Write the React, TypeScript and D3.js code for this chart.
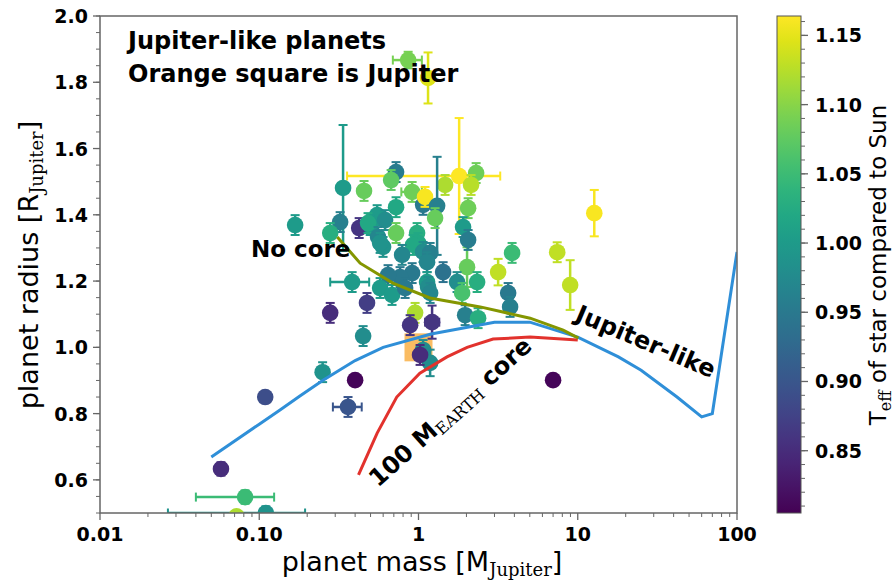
import React from 'react';
import * as d3 from 'd3';

// ---- data ----
const planetMass = [0.861, 1.148, 1.80, 0.336, 0.723, 0.673, 0.322, 0.455, 0.912, 1.069,
  1.099, 1.469, 2.301, 2.138, 2.049, 2.018, 1.905, 2.049, 3.87, 3.162,
  7.43, 12.7, 8.96, 0.168, 0.279, 0.424, 0.55, 0.497, 0.482, 0.617,
  0.723, 0.557, 0.599, 0.574, 0.723, 1.309, 1.271, 0.980, 0.994, 0.925,
  0.789, 1.069, 1.183, 1.132, 1.428, 0.912, 0.766, 0.644, 0.383, 0.574,
  0.682, 0.824, 1.132, 1.148, 1.183, 1.746, 1.879, 2.334, 3.656, 3.760,
  1.963, 2.367, 0.475, 0.279, 0.449, 0.952, 0.886, 1.217, 1.069, 1.183,
  1.023, 0.25, 0.361, 0.40, 7.0, 0.109, 0.0575, 0.0815, 0.11, 0.072];
const planetRadius = [1.867, 1.813, 1.517, 1.481, 1.529, 1.505, 1.378, 1.472, 1.469, 1.430,
  1.454, 1.490, 1.526, 1.490, 1.420, 1.242, 1.363, 1.324, 1.285, 1.227,
  1.287, 1.405, 1.188, 1.369, 1.345, 1.360, 1.399, 1.369, 1.375, 1.384,
  1.423, 1.333, 1.303, 1.315, 1.345, 1.427, 1.390, 1.345, 1.315, 1.309,
  1.279, 1.288, 1.285, 1.257, 1.227, 1.224, 1.212, 1.218, 1.197, 1.179,
  1.158, 1.179, 1.197, 1.182, 1.164, 1.197, 1.164, 1.197, 1.164, 1.122,
  1.097, 1.088, 1.134, 1.104, 1.034, 1.104, 1.067, 1.076, 0.992, 0.953,
  0.977, 0.925, 0.820, 0.901, 0.901, 0.85, 0.633, 0.548, 0.50, 0.49];
const starTeff = [1.09, 1.145, 1.163, 1.00, 0.955, 1.075, 0.96, 1.08, 1.085, 0.95,
  1.16, 1.12, 1.085, 1.125, 1.085, 1.08, 1.00, 0.955, 1.05, 1.13,
  1.13, 1.16, 1.13, 1.00, 1.03, 0.86, 1.0, 1.0, 1.02, 0.98,
  1.02, 0.97, 0.99, 0.99, 1.08, 0.96, 1.08, 1.03, 1.02, 1.02,
  0.97, 0.98, 0.96, 0.97, 0.94, 0.95, 0.95, 0.95, 1.00, 1.00,
  1.00, 0.95, 1.0, 0.98, 0.97, 0.98, 1.06, 1.03, 0.95, 0.96,
  0.96, 1.03, 0.87, 0.85, 0.98, 1.12, 0.86, 0.86, 0.98, 0.98,
  0.85, 0.99, 0.90, 0.81, 0.81, 0.89, 0.85, 1.05, 0.99, 1.12];
const radiusErr = [0.025, 0.077, 0.175, 0.19, 0.03, 0.03, 0.03, 0.03, 0.03, 0.03,
  0.03, 0.03, 0.03, 0.03, 0.03, 0.06, 0.03, 0.03, 0.03, 0.04,
  0.03, 0.07, 0.075, 0.03, 0.03, 0.03, 0.03, 0.03, 0.03, 0.03,
  0.03, 0.03, 0.03, 0.03, 0.03, 0.148, 0.03, 0.03, 0.03, 0.03,
  0.03, 0.03, 0.03, 0.03, 0.03, 0.03, 0.03, 0.03, 0.03, 0.03,
  0.03, 0.03, 0.03, 0.03, 0.03, 0.03, 0.03, 0.03, 0.03, 0.03,
  0.03, 0.03, 0.03, 0.03, 0.03, 0.03, 0.03, 0.05, 0.03, 0.04,
  0.03, 0.03, 0.03, 0, 0, 0, 0.02, 0.02, 0.02, 0];
// mass error ranges [low, high] for the points that have them (index -> range)
const massErrIndex = [0, 2, 8, 48, 67, 72, 77, 78];
const massErrLow = [0.69, 0.356, 0.78, 0.279, 1.1, 0.29, 0.04, 0.0267];
const massErrHigh = [1.05, 3.26, 1.05, 0.49, 1.35, 0.44, 0.124, 0.194];

// model curves
const noCoreMass = [0.309, 0.43, 0.69, 1.18, 2.44, 5.02, 8.1, 10.1];
const noCoreRadius = [1.333, 1.254, 1.194, 1.149, 1.122, 1.088, 1.052, 1.028];
const coreMass = [0.42, 0.55, 0.73, 1.02, 1.51, 2.02, 2.94, 5.02, 10];
const coreRadius = [0.615, 0.741, 0.85, 0.922, 0.971, 1.0, 1.025, 1.031, 1.022];
const jupLikeMass = [0.05, 0.1, 0.135, 0.18, 0.25, 0.4, 0.6, 1.2, 3, 5, 10, 18, 25, 42, 60, 70, 100];
const jupLikeRadius = [0.669, 0.768, 0.811, 0.853, 0.90, 0.96, 1.0, 1.04, 1.076, 1.076, 1.031, 0.971, 0.931, 0.85, 0.79, 0.80, 1.288];

const xTicks = [0.01, 0.1, 1, 10, 100];
const xTickLabels = ['0.01', '0.10', '1', '10', '100'];
const yTicks = [0.6, 0.8, 1.0, 1.2, 1.4, 1.6, 1.8, 2.0];
const cbTicks = [0.85, 0.90, 0.95, 1.00, 1.05, 1.10, 1.15];

const FONT = 'DejaVu Sans';
const SERIF = 'DejaVu Serif';

export default function App() {
  const W = 896, H = 581;
  const L = 100, R = 737, T = 16, B = 513;
  const x = d3.scaleLog().domain([0.01, 100]).range([L, R]);
  const y = d3.scaleLinear().domain([0.5, 2.0]).range([B, T]);
  const cbDomain: [number, number] = [0.805, 1.164];
  const cbY = d3.scaleLinear().domain(cbDomain).range([B, T]);
  const color = d3.scaleSequential(d3.interpolateViridis).domain(cbDomain);
  const line = d3.line<[number, number]>().x(d => x(d[0])).y(d => y(d[1]));

  const pts = planetMass.map((m, i) => ({ m, r: planetRadius[i], t: starTeff[i], e: radiusErr[i] }));
  const axisColor = '#666';

  const xMinor: number[] = [];
  for (let dec = -2; dec < 2; dec++) for (let k = 2; k <= 9; k++) xMinor.push(k * Math.pow(10, dec));
  const yMinor = d3.range(0.5, 2.0001, 0.05);
  const cbMinor = d3.range(0.81, 1.1601, 0.01);

  const cbX0 = 777, cbX1 = 801;
  const stops = d3.range(0, 1.0001, 0.05);
  const cap = 4.5;

  return (
    <svg width={W} height={H} style={{ position: 'absolute', left: 0, top: 0 }} fontFamily={FONT}>
      <defs>
        <clipPath id="plotclip"><rect x={L} y={T} width={R - L} height={B - T} /></clipPath>
        <linearGradient id="cbgrad" x1="0" y1="1" x2="0" y2="0">
          {stops.map(s => <stop key={s} offset={s} stopColor={d3.interpolateViridis(s)} />)}
        </linearGradient>
      </defs>
      <rect width={W} height={H} fill="#fff" />

      <g clipPath="url(#plotclip)">
        {/* Jupiter square */}
        <rect x={x(1) - 14} y={y(1) - 14} width={28} height={28} fill="#f9b551" opacity={0.9} />
        {pts.map((p, i) => {
          const c = color(p.t);
          const cx = x(p.m), cy = y(p.r);
          const k = massErrIndex.indexOf(i);
          return (
            <g key={i}>
              {p.e > 0 && (
                <g stroke={c} strokeWidth={2.5}>
                  <line x1={cx} x2={cx} y1={y(p.r - p.e)} y2={y(p.r + p.e)} />
                  <line x1={cx - cap} x2={cx + cap} y1={y(p.r - p.e)} y2={y(p.r - p.e)} strokeWidth={2} />
                  <line x1={cx - cap} x2={cx + cap} y1={y(p.r + p.e)} y2={y(p.r + p.e)} strokeWidth={2} />
                </g>
              )}
              {k >= 0 && (
                <g stroke={c} strokeWidth={2.5}>
                  <line x1={x(massErrLow[k])} x2={x(massErrHigh[k])} y1={cy} y2={cy} />
                  <line x1={x(massErrLow[k])} x2={x(massErrLow[k])} y1={cy - cap} y2={cy + cap} strokeWidth={2} />
                  <line x1={x(massErrHigh[k])} x2={x(massErrHigh[k])} y1={cy - cap} y2={cy + cap} strokeWidth={2} />
                </g>
              )}
              <circle cx={cx} cy={cy} r={8.3} fill={c} />
            </g>
          );
        })}
        <path d={line(jupLikeMass.map((m, i) => [m, jupLikeRadius[i]]) as any) || ''} fill="none" stroke="#2f8fd8" strokeWidth={3} />
        <path d={line(coreMass.map((m, i) => [m, coreRadius[i]]) as any) || ''} fill="none" stroke="#e2322d" strokeWidth={3} />
        <path d={line(noCoreMass.map((m, i) => [m, noCoreRadius[i]]) as any) || ''} fill="none" stroke="#849600" strokeWidth={3} />
      </g>

      {/* frame */}
      <rect x={L} y={T} width={R - L} height={B - T} fill="none" stroke={axisColor} strokeWidth={1.5} />

      {/* x ticks */}
      {xTicks.map((t, i) => (
        <g key={t}>
          <line x1={x(t)} x2={x(t)} y1={B} y2={B + 7} stroke={axisColor} strokeWidth={1.3} />
          <text x={x(t)} y={541} textAnchor="middle" fontSize={19} fontWeight="bold">{xTickLabels[i]}</text>
        </g>
      ))}
      {xMinor.map(t => <line key={t} x1={x(t)} x2={x(t)} y1={B} y2={B + 4} stroke={axisColor} strokeWidth={1} />)}

      {/* y ticks */}
      {yTicks.map(t => (
        <g key={t}>
          <line x1={L - 7} x2={L} y1={y(t)} y2={y(t)} stroke={axisColor} strokeWidth={1.3} />
          <text x={88} y={y(t) + 7} textAnchor="end" fontSize={19} fontWeight="bold">{t.toFixed(1)}</text>
        </g>
      ))}
      {yMinor.map(t => <line key={t} x1={L - 4} x2={L} y1={y(t)} y2={y(t)} stroke={axisColor} strokeWidth={1} />)}

      {/* axis labels */}
      <text x={422} y={571} textAnchor="middle" fontSize={27}>
        planet mass [M<tspan fontFamily={SERIF} fontSize={18} dy={5}>Jupiter</tspan><tspan dy={-5}>]</tspan>
      </text>
      <text transform="translate(38,265) rotate(-90)" textAnchor="middle" fontSize={27}>
        planet radius [R<tspan fontFamily={SERIF} fontSize={18} dy={5}>Jupiter</tspan><tspan dy={-5}>]</tspan>
      </text>

      {/* annotations */}
      <text x={128} y={49} fontSize={24} fontWeight="bold">Jupiter-like planets</text>
      <text x={128} y={82} fontSize={24} fontWeight="bold">Orange square is Jupiter</text>
      <text x={251} y={257} fontSize={23} fontWeight="bold">No core</text>
      <text transform="translate(574,320) rotate(23)" fontSize={24} fontWeight="bold">Jupiter-like</text>
      <text transform="translate(378,488) rotate(-42)" fontSize={24} fontWeight="bold">
        100 M<tspan fontFamily={SERIF} fontWeight="normal" fontSize={16} dy={4}>EARTH</tspan><tspan dy={-4}> core</tspan>
      </text>

      {/* colorbar */}
      <rect x={cbX0} y={T} width={cbX1 - cbX0} height={B - T} fill="url(#cbgrad)" stroke="#555" strokeWidth={1} />
      {cbTicks.map(t => (
        <g key={t}>
          <line x1={cbX1} x2={cbX1 + 7} y1={cbY(t)} y2={cbY(t)} stroke={axisColor} strokeWidth={1.3} />
          <text x={815} y={cbY(t) + 7} fontSize={19} fontWeight="bold">{t.toFixed(2)}</text>
        </g>
      ))}
      {cbMinor.map(t => <line key={t} x1={cbX1} x2={cbX1 + 4} y1={cbY(t)} y2={cbY(t)} stroke={axisColor} strokeWidth={1} />)}
      <text transform="translate(886,265) rotate(-90)" textAnchor="middle" fontSize={23}>
        T<tspan fontFamily={SERIF} fontSize={16} dy={5}>eff</tspan><tspan dy={-5}> of star compared to Sun</tspan>
      </text>
    </svg>
  );
}
